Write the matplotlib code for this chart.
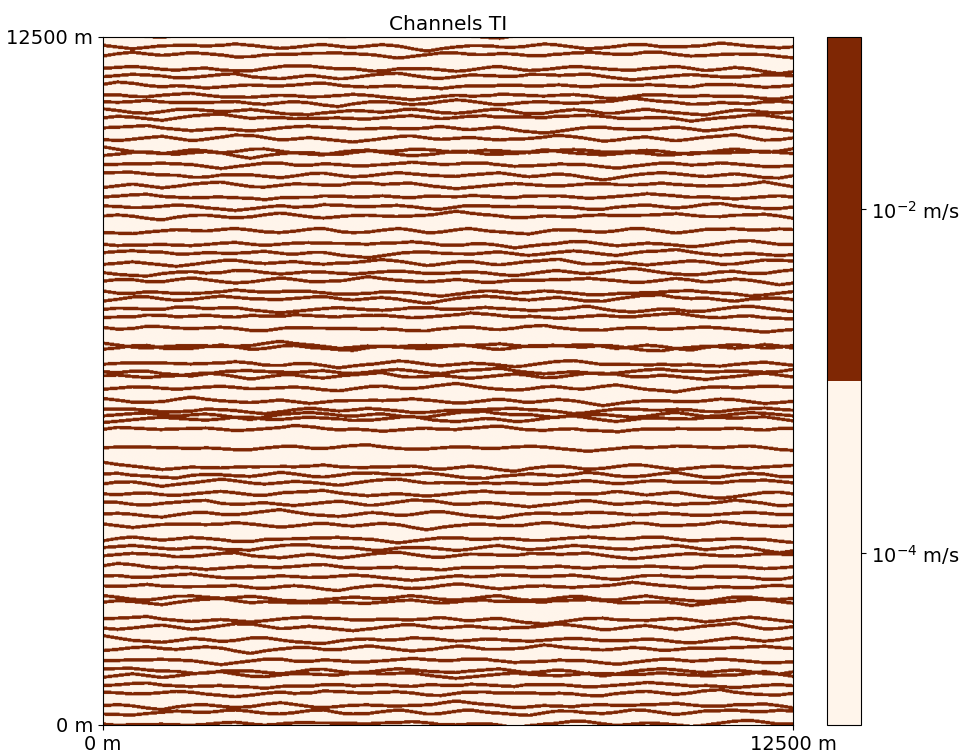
import numpy as np
import matplotlib.pyplot as plt
from matplotlib.colors import ListedColormap, LogNorm

# domain and conductivities
size = 12500
k_matrix = 1e-4
k_channel = 1e-2

# channel positions at the left edge (m)
channel_y = [12530, 12331, 12137, 11913, 11761, 11623, 11428, 11307, 11179,
             11016, 10834, 10623, 10489, 10333, 10169, 10017, 9751, 9580,
             9417, 9235, 8934, 8721, 8570, 8358, 8207, 8054, 7873, 7691,
             7540, 7395, 7213, 6928, 6819, 6546, 6408, 6336, 6092, 5923,
             5729, 5609, 5487, 5365, 5033, 4766, 4555, 4373, 4192, 4039,
             3828, 3647, 3343, 3221, 3071, 2889, 2707, 2525, 2349, 2229,
             1926, 1757, 1622, 1350, 1168, 1017, 867, 714, 594, 351, 200, 18]

# meander shapes (offsets in m at evenly spaced knots across the domain)
profiles = [
    [0, 30, 10, -40, -70, -20, 20, 50, 20, -10, 10, 60, 110, 50, 0, -30,
     -60, -30, 10, 0, -30, -10, 40, 70, 30, -20, -50, -90, -40, 0, 20, -10,
     30, 80, 40, 0, -20, 10, 50, 20, -40, -70, -30, 10, 40, 20, -10, 0],
    [0, -40, -80, -30, 10, 40, 20, -10, -50, -20, 30, 10, -20, 20, 90, 140,
     60, 10, -20, 0, 40, 20, -30, -60, -20, 20, 60, 30, -10, -40, -10, 30,
     10, -30, -80, -120, -50, 0, 30, 60, 30, -10, 20, 50, 10, -30, -20, 0],
    [0, 20, 60, 30, -10, -50, -90, -40, 0, 40, 20, -20, 0, 50, 30, -20,
     -40, 0, 60, 100, 40, -10, -30, 10, 40, 0, -50, -30, 20, 60, 20, -10,
     -60, -100, -40, 10, 30, 0, -20, 20, 70, 40, 0, -40, -10, 30, 10, 0],
    [0, -10, 30, 70, 40, 0, -30, 10, 50, 20, -30, -70, -40, -10, 20, 60,
     20, -20, -60, -20, 30, 10, -30, -10, 50, 120, 60, 10, -20, -50, -20, 20,
     50, 10, -30, 0, 40, 80, 30, -10, -50, -80, -30, 10, -10, 20, 40, 0],
    [0, 50, 20, -20, 10, 40, 0, -40, -90, -50, -10, 30, 60, 20, -20, -40,
     0, 40, 10, -30, -10, 30, 70, 30, -20, -60, -20, 10, 40, 90, 40, 0,
     -40, -10, 20, -20, -60, -30, 10, 50, 80, 30, -10, -40, -10, 30, 20, 0],
    [0, -20, -60, -20, 30, 80, 30, -10, -30, 10, 50, 20, -20, -60, -110, -50,
     0, 20, -10, 30, 70, 30, -10, -40, 0, 40, 10, -30, -70, -30, 10, 50,
     20, -20, 20, 60, 100, 40, 0, -30, -60, -20, 20, 0, -30, 10, 40, 0],
]

n = 1000
half_width = 30
cell = size / n
xc = (np.arange(n) + 0.5) * cell
Y = ((np.arange(n) + 0.5) * cell)[:, None]
nk = len(profiles[0])
knots = np.linspace(0, size, nk)
knots_slow = np.linspace(0, size, nk // 2)

field = np.full((n, n), k_matrix)
for i, y0 in enumerate(channel_y):
    fast = np.roll(profiles[i % 6], (i * 7) % nk)
    slow = np.roll(profiles[(i + 3) % 6], (i * 11) % nk)[::2]
    sign = 1 if i % 2 == 0 else -1
    off = 0.6 * sign * np.interp(xc, knots, fast) \
        - 0.35 * np.interp(xc, knots_slow, slow)
    yc = y0 + off - off[0]
    field[np.abs(Y - yc[None, :]) < half_width] = k_channel

cmap = ListedColormap(['#fff5eb', '#7f2704'])
norm = LogNorm(vmin=1e-5, vmax=1e-1)

fig = plt.figure(figsize=(9.59, 7.54), dpi=100)
ax = fig.add_axes([0.1074, 0.0385, 0.7195, 0.9125])
cax = fig.add_axes([0.8624, 0.0385, 0.0355, 0.9125])

im = ax.imshow(field, origin='lower', extent=[0, size, 0, size],
               cmap=cmap, norm=norm, aspect='auto',
               interpolation='antialiased', interpolation_stage='rgba')
ax.set_xticks([0, size])
ax.set_xticklabels(['0 m', '12500 m'], fontsize=14)
ax.set_yticks([0, size])
ax.set_yticklabels(['0 m', '12500 m'], fontsize=14)
ax.set_title('Channels TI', fontsize=14.5, pad=5)

cb = fig.colorbar(im, cax=cax)
cb.set_ticks([1e-2, 1e-4])
cb.set_ticklabels([r'$10^{-2}$ m/s', r'$10^{-4}$ m/s'])
cb.ax.minorticks_off()
cb.ax.tick_params(labelsize=14)

fig.savefig('out.png', dpi=100)
